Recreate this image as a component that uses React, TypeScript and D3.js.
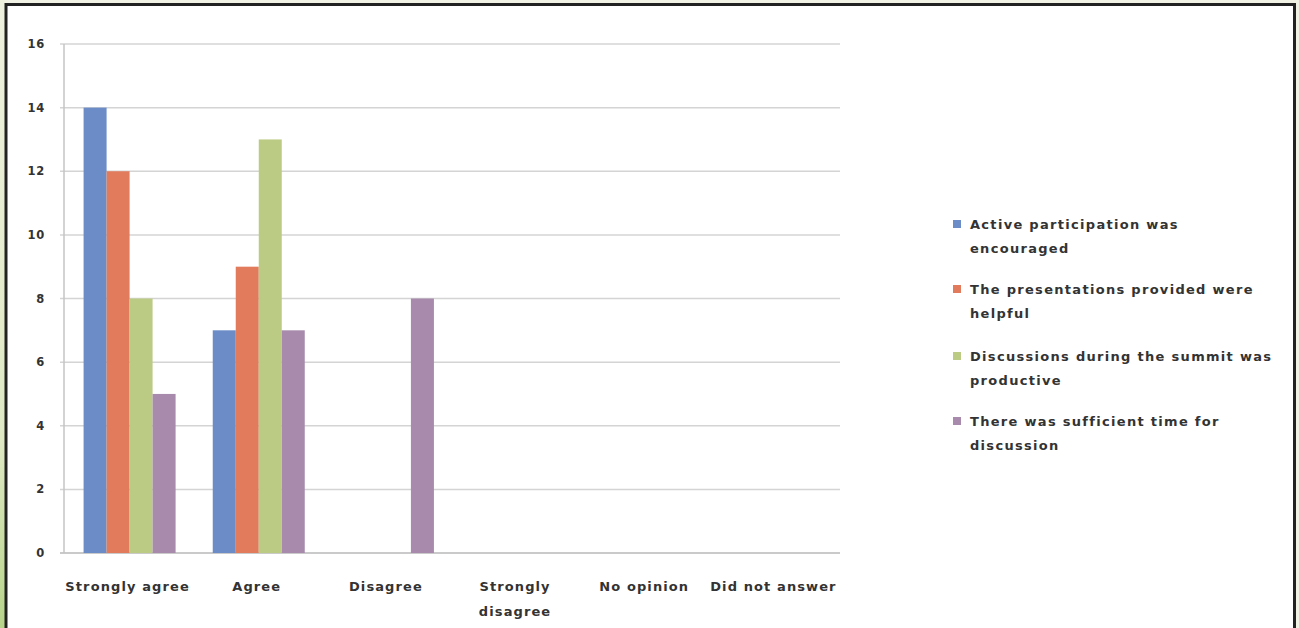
import React, { useEffect, useRef } from 'react'
import * as d3 from 'd3'

const categories = ['Strongly agree', 'Agree', 'Disagree', 'Strongly disagree', 'No opinion', 'Did not answer']
const seriesNames = [
  'Active participation was encouraged',
  'The presentations provided were helpful',
  'Discussions during the summit was productive',
  'There was sufficient time for discussion',
]
const legendLines = [
  ['Active participation was', 'encouraged'],
  ['The presentations provided were', 'helpful'],
  ['Discussions during the summit was', 'productive'],
  ['There was sufficient time for', 'discussion'],
]
const activeValues = [14, 7, 0, 0, 0, 0]
const presentationValues = [12, 9, 0, 0, 0, 0]
const discussionValues = [8, 13, 0, 0, 0, 0]
const timeValues = [5, 7, 8, 0, 0, 0]
const yTicks = [0, 2, 4, 6, 8, 10, 12, 14, 16]
const colors = ['#6b8cc6', '#e27a5c', '#bccb84', '#a78aac']

const W = 1299
const H = 628

const App = () => {
  const svgRef = useRef<SVGSVGElement>(null)

  useEffect(() => {
    const svg = d3.select(svgRef.current)
    svg.selectAll('*').remove()

    const font = '"DejaVu Sans", sans-serif'
    const values = [activeValues, presentationValues, discussionValues, timeValues]

    // page background and frame
    svg.append('rect').attr('width', W).attr('height', H).style('fill', '#f1f2e4')
    const grad = svg.append('defs').append('linearGradient')
      .attr('id', 'strip').attr('x1', 0).attr('y1', 0).attr('x2', 0).attr('y2', 1)
    grad.append('stop').attr('offset', '0%').attr('stop-color', '#eef1de')
    grad.append('stop').attr('offset', '70%').attr('stop-color', '#dfe9c4')
    grad.append('stop').attr('offset', '100%').attr('stop-color', '#b7d48a')
    svg.append('rect').attr('x', 0).attr('y', 0).attr('width', 5).attr('height', H).style('fill', 'url(#strip)')
    svg.append('rect')
      .attr('x', 6).attr('y', 4.5).attr('width', 1288.5).attr('height', H + 10)
      .style('fill', '#ffffff').style('stroke', '#222').style('stroke-width', 3)

    const x0 = d3.scaleBand<string>().domain(categories).range([65, 840])
    const groupW = 92
    const x1 = d3.scaleBand<string>().domain(seriesNames)
      .range([(x0.bandwidth() - groupW) / 2, (x0.bandwidth() + groupW) / 2])
    const y = d3.scaleLinear().domain([0, 16]).range([553, 44])

    // gridlines
    svg.append('g').selectAll('line').data(yTicks).join('line')
      .attr('x1', 60).attr('x2', 840)
      .attr('y1', (d) => y(d)).attr('y2', (d) => y(d))
      .style('stroke', (d) => (d === 0 ? '#b8b8b8' : '#d4d4d4'))
      .style('stroke-width', 1.5)
    svg.append('line').attr('x1', 64).attr('x2', 64).attr('y1', y(16)).attr('y2', y(0))
      .style('stroke', '#c4c4c4').style('stroke-width', 1.5)

    svg.append('g').selectAll('text').data(yTicks).join('text')
      .attr('x', 45).attr('y', (d) => y(d)).attr('dy', '0.35em')
      .attr('text-anchor', 'end')
      .style('font', `bold 11.5px ${font}`).style('fill', '#333')
      .style('letter-spacing', '0.8px')
      .text((d) => d)

    // bars
    seriesNames.forEach((name, si) => {
      svg.append('g').selectAll('rect').data(values[si]).join('rect')
        .attr('x', (_, i) => (x0(categories[i]) as number) + (x1(name) as number))
        .attr('width', x1.bandwidth())
        .attr('y', (d) => y(d))
        .attr('height', (d) => y(0) - y(d))
        .style('fill', colors[si])
    })

    // x labels
    const xl = svg.append('g')
    categories.forEach((c) => {
      const cx = (x0(c) as number) + x0.bandwidth() / 2 - 2
      const lines = c === 'Strongly disagree' ? ['Strongly', 'disagree'] : [c]
      lines.forEach((t, li) => {
        xl.append('text').attr('x', cx).attr('y', 586 + li * 25).attr('dy', '0.35em')
          .attr('text-anchor', 'middle')
          .style('font', `bold 13px ${font}`).style('fill', '#333')
          .style('letter-spacing', '1.1px')
          .text(t)
      })
    })

    // legend
    const lg = svg.append('g')
    const legendY = [224, 289, 356, 421]
    legendLines.forEach((ls, i) => {
      lg.append('rect').attr('x', 953).attr('y', legendY[i] - 4).attr('width', 8).attr('height', 8)
        .style('fill', colors[i])
      ls.forEach((t, li) => {
        lg.append('text').attr('x', 970).attr('y', legendY[i] + li * 24).attr('dy', '0.35em')
          .style('font', `bold 13px ${font}`).style('fill', '#333')
          .style('letter-spacing', '1.3px')
          .text(t)
      })
    })
  }, [])

  return (
    <svg ref={svgRef} width={W} height={H}
      style={{ position: 'absolute', left: 0, top: 0, display: 'block' }}></svg>
  )
}

export default App
